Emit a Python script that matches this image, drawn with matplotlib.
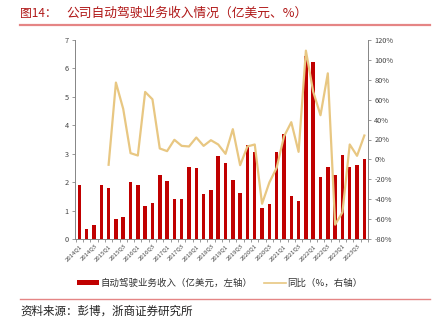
import matplotlib
matplotlib.use("Agg")
import matplotlib.pyplot as plt
import numpy as np
from matplotlib.lines import Line2D
from matplotlib.patches import Patch

plt.rcParams['font.family'] = ['Noto Sans CJK SC', 'DejaVu Sans']

quarters = [f"{y}Q{q}" for y in range(2014, 2024) for q in range(1, 5)]
revenue = [1.90, 0.36, 0.49, 1.90, 1.79, 0.70, 0.76, 2.00, 1.89, 1.17,
           1.25, 2.24, 2.03, 1.41, 1.42, 2.54, 2.51, 1.59, 1.72, 2.93,
           2.66, 2.08, 1.62, 3.30, 3.07, 1.10, 1.24, 3.07, 3.71, 1.52,
           1.33, 6.45, 6.23, 2.19, 2.52, 2.25, 2.94, 2.53, 2.61, 2.81]
yoy = [None, None, None, None, -5.4, 77.2, 50.7, 6.3, 3.9, 67.8,
       60.4, 11.0, 8.3, 19.7, 13.6, 13.0, 22.0, 13.6, 19.3, 15.0,
       5.6, 30.4, -5.8, 13.0, 15.0, -44.6, -23.2, -8.4, 23.0, 37.4,
       7.6, 109.3, 68.1, 44.4, 86.5, -65.6, -53.2, 15.0, 3.6, 24.0]
tick_labels = quarters[::2]

W, H = 434, 325
fig = plt.figure(figsize=(W/100, H/100), dpi=100)
ax = fig.add_axes([75/W, 1-239/H, (368-75)/W, (239-40)/H])
ax2 = ax.twinx()

x = np.arange(len(quarters))
bar_c = '#c00000'
line_c = '#e8c782'
ax.bar(x, revenue, width=0.48, color=bar_c, zorder=2)
yx = [i for i, v in enumerate(yoy) if v is not None]
yv = [v for v in yoy if v is not None]
ax2.plot(yx, yv, color=line_c, lw=1.6, zorder=3)

ax.set_xlim(-0.6, 39.5)
ax.set_ylim(0, 7)
ax.set_yticks(range(0, 8))
ax2.set_ylim(-80, 120)
ax2.set_yticks(range(-80, 121, 20))
ax2.set_yticklabels([f"{v}%" for v in range(-80, 121, 20)])

ax.set_xticks(x[::2])
ax.set_xticklabels(tick_labels, rotation=45, ha='right', rotation_mode='anchor', fontsize=4.3, color='#444444')
ax.set_xticks(np.arange(-0.5, 40, 1), minor=True)
ax.tick_params(axis='x', which='major', length=0, pad=3)
ax.tick_params(axis='x', which='minor', length=2.5, color='#888888', width=0.6)
ax.tick_params(axis='y', length=2.5, color='#888888', width=0.6, labelsize=5.3, labelcolor='#444444', pad=2)
ax2.tick_params(axis='y', length=2.5, color='#888888', width=0.6, labelsize=5.3, labelcolor='#444444', pad=2)

for a in (ax, ax2):
    a.spines['top'].set_visible(False)
    for s in ('left', 'right', 'bottom'):
        a.spines[s].set_color('#888888')
        a.spines[s].set_linewidth(0.7)
ax2.set_zorder(ax.get_zorder() + 1)
ax2.patch.set_visible(False)

# title
fig.text(20/W, 1-13/H, "图14：", fontsize=8.5, color='#b01818', va='center', ha='left')
fig.text(66/W, 1-13/H, "公司自动驾驶业务收入情况（亿美元、%）", fontsize=9.2,
         color='#b01818', va='center', ha='left')
fig.add_artist(Line2D([20/W, 430/W], [1-24.5/H, 1-24.5/H], color='#e58585', lw=1.6))

handles = [Patch(facecolor=bar_c, edgecolor='none'),
           Line2D([0], [0], color=line_c, lw=1.2)]
labels = ["自动驾驶业务收入（亿美元，左轴）", "同比（%，右轴）"]
fig.legend(handles, labels, loc='center', bbox_to_anchor=(220/W, 1-283/H), ncol=2,
           frameon=False, fontsize=6.8, handlelength=2.3, handleheight=0.5,
           columnspacing=1.2, handletextpad=0.2, labelcolor='#333333')

fig.add_artist(Line2D([20/W, 430/W], [1-299/H, 1-299/H], color='#e58585', lw=1.0))
fig.text(20/W, 1-311/H, "资料来源：彭博，浙商证券研究所", fontsize=8.3, color='#222222',
         va='center', ha='left')

fig.savefig("out.png", dpi=100)
